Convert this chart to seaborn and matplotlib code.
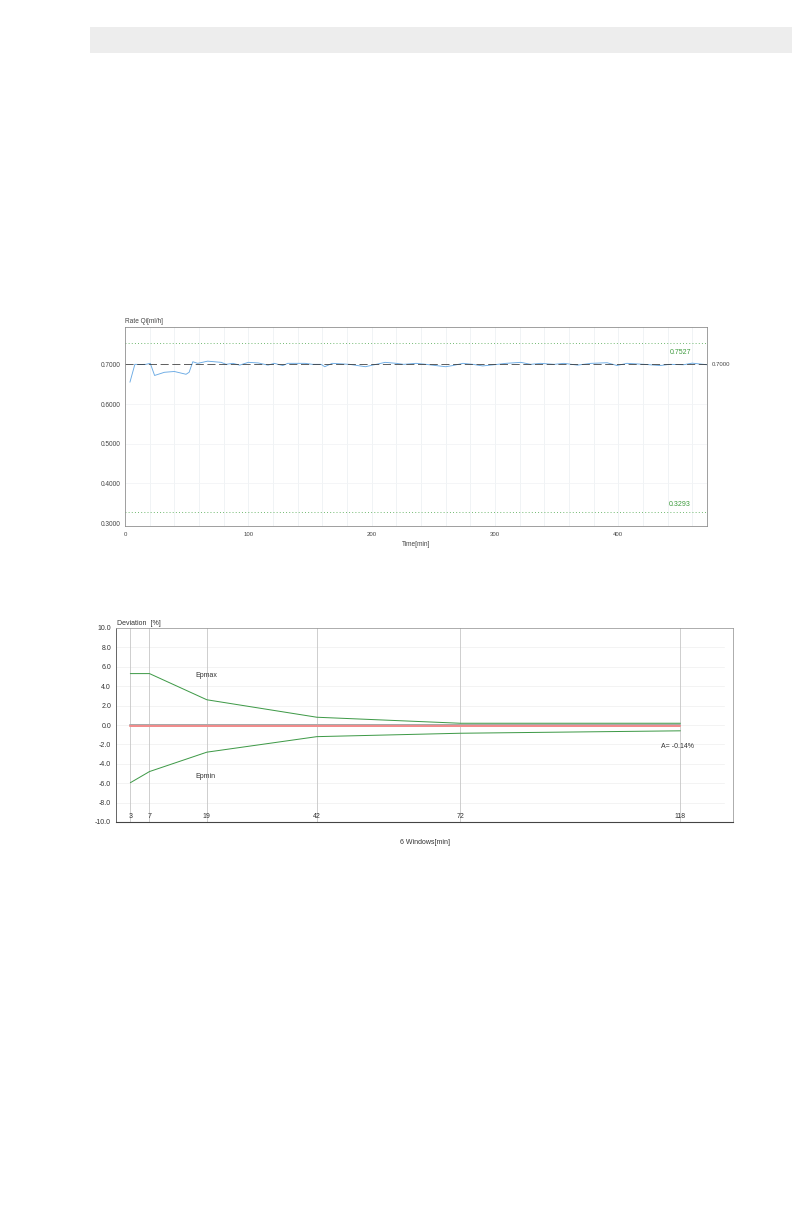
import matplotlib
matplotlib.use("Agg")
import matplotlib.pyplot as plt
from matplotlib.patches import Rectangle
from matplotlib.ticker import MultipleLocator, FixedLocator
import seaborn as sns
import pandas as pd

# top chart: flow rate over time
times = [4, 8, 13, 17, 20.5, 24, 32, 40, 49.5, 52, 55, 59, 67, 78, 82, 87.5, 93, 100,
         108, 116, 121, 128, 132, 146, 152, 159, 162, 168, 182, 195, 211, 220, 226,
         236, 244, 252, 260, 266, 274, 282, 290, 298, 309, 321, 329, 337, 348, 356,
         367, 378, 391, 399, 407, 421, 434, 442, 453, 460, 472]
rates = [0.655, 0.700, 0.6995, 0.700, 0.7025, 0.672, 0.680, 0.682, 0.675, 0.680,
         0.7065, 0.7025, 0.708, 0.705, 0.700, 0.7025, 0.698, 0.705, 0.7035, 0.698,
         0.7025, 0.697, 0.7025, 0.7025, 0.700, 0.700, 0.694, 0.7025, 0.700, 0.694,
         0.705, 0.7025, 0.700, 0.7025, 0.700, 0.697, 0.694, 0.697, 0.7025, 0.700,
         0.696, 0.6985, 0.7025, 0.705, 0.700, 0.7025, 0.700, 0.7025, 0.698, 0.7025,
         0.704, 0.697, 0.7025, 0.700, 0.697, 0.700, 0.699, 0.703, 0.699]
set_rate = 0.7000
upper_limit = 0.7527
lower_limit = 0.3293

# bottom chart: trumpet curve
windows = [3, 7, 19, 42, 72, 118]
epmax = [5.3, 5.3, 2.6, 0.8, 0.18, 0.18]
epmin = [-5.95, -4.8, -2.8, -1.2, -0.85, -0.6]
mean_dev = -0.14

sns.set_style("white")
plt.rcParams['font.family'] = ['Liberation Sans', 'DejaVu Sans']

fig = plt.figure(figsize=(11, 17), dpi=72)
fig.patches.append(Rectangle((90 / 792, 1 - 53 / 1224), 702 / 792, 26 / 1224,
                             transform=fig.transFigure, facecolor='#ededed',
                             edgecolor='none'))

# ---------- top chart ----------
ax1 = fig.add_axes([125 / 792, 1 - 526 / 1224, 582 / 792, 199 / 1224])
df1 = pd.DataFrame({'time': times, 'rate': rates})
for x in range(20, 480, 20):
    ax1.axvline(x, color='#edf0f3', lw=0.8, zorder=0)
for y in [0.4, 0.5, 0.6]:
    ax1.axhline(y, color='#f2f3f5', lw=0.8, zorder=0)
ax1.axhline(upper_limit, color='#5aae5a', lw=0.9, ls=(0, (1, 2.5)))
ax1.axhline(lower_limit, color='#5aae5a', lw=0.9, ls=(0, (1, 2.5)))
sns.lineplot(data=df1, x='time', y='rate', ax=ax1, color='#6aaae4', lw=0.9,
             estimator=None)
ax1.axhline(set_rate, color='#333333', lw=0.9, ls=(0, (9, 4)), alpha=0.85)
ax1.set_xlim(0, 472)
ax1.set_ylim(0.293, 0.794)
ax1.yaxis.set_major_locator(FixedLocator([0.3, 0.4, 0.5, 0.6, 0.7]))
ax1.set_yticklabels(['0.3000', '0.4000', '0.5000', '0.6000', '0.7000'])
ax1.xaxis.set_major_locator(MultipleLocator(100))
ax1.xaxis.set_minor_locator(MultipleLocator(20))
ax1.tick_params(axis='both', which='both', direction='out', labelsize=6,
                colors='#555555', labelcolor='#444444', width=0.7)
ax1.tick_params(axis='y', length=3, pad=1.5, labelsize=6.5)
ax1.tick_params(axis='x', which='major', length=3, pad=3)
ax1.tick_params(axis='x', which='minor', length=2.5)
ax1.set_xlabel('')
ax1.set_ylabel('')
for s in ax1.spines.values():
    s.set_color('#8a8a8a')
    s.set_linewidth(0.8)
ax1.text(0, 1.01, 'Rate Qi[ml/h]', transform=ax1.transAxes, fontsize=6.5,
         color='#444444', va='bottom', ha='left')
ax1.text(416 / 792, 1 - 544 / 1224, 'Time[min]', transform=fig.transFigure,
         fontsize=6.5, color='#444444', ha='center', va='center')
ax1.text(1.009, set_rate, '0.7000', transform=ax1.get_yaxis_transform(),
         fontsize=6, color='#444444', va='center', ha='left')
ax1.text(691 / 792, 1 - 352 / 1224, '0.7527', transform=fig.transFigure,
         fontsize=7, color='#3c9a3c', ha='right', va='center')
ax1.text(691 / 792, 1 - 504 / 1224, '0.3293', transform=fig.transFigure,
         fontsize=7, color='#3c9a3c', ha='right', va='center')

# ---------- bottom chart ----------
ax2 = fig.add_axes([116 / 792, 1 - 822 / 1224, 617 / 792, 194 / 1224])
df2 = pd.DataFrame({'window': windows, 'epmax': epmax, 'epmin': epmin})
for y in range(-8, 10, 2):
    ax2.axhline(y, xmax=0.985, color='#f0f0f0', lw=0.8, zorder=0)
for w in windows:
    ax2.axvline(w, color='#c4c4c4', lw=0.8, zorder=0.5)
    ax2.text(w, -9.75, str(w), fontsize=7, color='#333333', ha='center',
             va='bottom')
ax2.plot([windows[0], windows[-1]], [0, 0], color='#a9a9a9', lw=2, zorder=2)
ax2.plot([windows[0], windows[-1]], [mean_dev, mean_dev], color='#f08c8c', lw=2,
         zorder=2)
sns.lineplot(data=df2, x='window', y='epmax', ax=ax2, color='#3f9a48', lw=1,
             estimator=None, zorder=3)
sns.lineplot(data=df2, x='window', y='epmin', ax=ax2, color='#3f9a48', lw=1,
             estimator=None, zorder=3)
ax2.set_xlim(0, 129)
ax2.set_ylim(-10, 10)
ax2.yaxis.set_major_locator(MultipleLocator(2))
ax2.set_yticklabels([f'{v:.1f}' for v in ax2.get_yticks()])
ax2.xaxis.set_major_locator(MultipleLocator(20))
ax2.xaxis.set_minor_locator(MultipleLocator(5))
ax2.set_xticklabels([])
ax2.tick_params(axis='both', which='both', direction='out', labelsize=7,
                colors='#444444', labelcolor='#333333', width=0.8)
ax2.tick_params(axis='y', length=4, pad=1)
ax2.tick_params(axis='x', which='major', length=6)
ax2.tick_params(axis='x', which='minor', length=3.5)
ax2.set_xlabel('')
ax2.set_ylabel('')
for s in ax2.spines.values():
    s.set_color('#9a9a9a')
    s.set_linewidth(0.8)
ax2.spines['left'].set_color('#444444')
ax2.spines['bottom'].set_color('#444444')
ax2.spines['bottom'].set_linewidth(1.1)
ax2.text(0.002, 1.004, 'Deviation  [%]', transform=ax2.transAxes, fontsize=7,
         color='#333333', va='bottom', ha='left')
ax2.text(16.5, 5.1, 'Epmax', fontsize=7, color='#333333', va='center')
ax2.text(16.5, -5.3, 'Epmin', fontsize=7, color='#333333', va='center')
ax2.text(114, -2.2, 'A= -0.14%', fontsize=7, color='#333333', va='center')
fig.text(425 / 792, 1 - 842 / 1224, '6 Windows[min]', fontsize=7,
         color='#333333', ha='center', va='center')

fig.savefig('out.png', dpi=72)
